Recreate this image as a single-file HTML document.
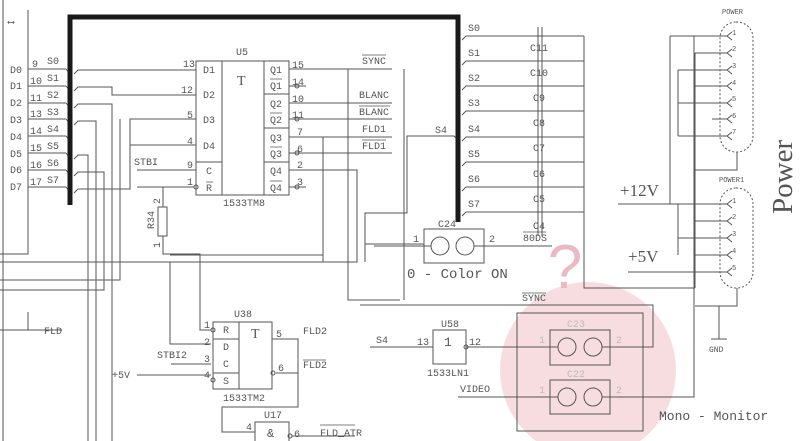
<!DOCTYPE html>
<html><head><meta charset="utf-8"><style>
html,body{margin:0;padding:0;background:#fff;}
svg{display:block;}
text{font-family:"Liberation Mono",monospace;fill:#555;}
</style></head><body>
<svg width="800" height="441" viewBox="0 0 800 441" xmlns="http://www.w3.org/2000/svg">
<circle cx="588" cy="370" r="88" fill="#f8dde0"/>
<text x="565" y="288" style="font-size:62px;fill:#eab9c4;font-family:'Liberation Sans',sans-serif" text-anchor="middle">?</text>
<g stroke="#555" stroke-width="1" fill="none">
<path d="M3 0V441M28 10V254H0"/>
<path d="M28 69H66M28 86H66M28 103H66M28 119H66M28 136H66M28 153H66M28 170H66M28 187H66"/>
<path d="M66 69l4 5M66 86l4 5M66 103l4 5M66 119l4 5M66 136l4 5M66 153l4 5M66 170l4 5M66 187l4 5"/>
<path d="M74 74l4-4H196M74 91l4-4H112V95H196M74 108l4-4H112V441M74 125l4-4H96V441M74 193l4-4H130V119H196M130 145H196"/>
<path d="M74 159l4-4H88V441M74 176l4-4H104V290H0"/>
<path d="M120 119V280H0"/>
<path d="M137 170H196M137 187H194"/>
<path d="M163 187V207M163 236V254H200V330H211M170 262V344H211"/>
<path d="M137 375H211"/>
<rect x="158" y="207" width="9" height="29"/>
<path d="M28 312V330H0M28 330H62"/>
<rect x="196" y="61" width="93" height="134"/>
<path d="M222 61V195M264 61V195M196 162H222M264 94H289M264 128H289M264 162H289"/>
<path d="M289 69H392M289 86H306M289 103H392M289 119H392M289 137H392M289 153H392M289 170H357V262H0M289 187H306"/>
<path d="M348 69V300H400M323 137V262M323 255H170"/>
<path d="M404 69V300"/>
<path d="M458 140l-4-4H407V213H365V262M365 244H424"/>
<circle cx="297" cy="86" r="2"/><circle cx="297" cy="119" r="2"/><circle cx="297" cy="153" r="2"/><circle cx="297" cy="187" r="2"/><circle cx="196" cy="187" r="2"/>
<path d="M462 40l4-4H584M462 65l4-4H584M462 90l4-4H584M462 115l4-4H584M462 141l4-4H584M462 166l4-4H584M462 191l4-4H584M462 216l4-4H584"/>
<path d="M584 36V288H695"/>
<path d="M538 27V236M542 27V236"/>
<rect x="424" y="229" width="60" height="34"/>
<circle cx="440" cy="246" r="9"/><circle cx="465" cy="246" r="9"/>
<path d="M374 246H431M474 246H552"/>
<path d="M360 305H653V347H602"/>
<rect x="517" y="313" width="126" height="118"/>
<rect x="550" y="330" width="60" height="35"/>
<rect x="550" y="380" width="60" height="34"/>
<circle cx="567" cy="347" r="9"/><circle cx="593" cy="347" r="9"/>
<circle cx="567" cy="397" r="9"/><circle cx="593" cy="397" r="9"/>
<path d="M466 347H558M458 397H558M602 397H694V36"/>
<rect x="433" y="330" width="33" height="34"/>
<path d="M370 347H433"/>
<circle cx="466" cy="347" r="2"/>
<path d="M670 36H727M670 36V204M695 53H727M695 53V288M678 70H727M678 70V136M695 86H727M678 103H727M678 136H727M712 119H727M737 152V170H695"/>
<path d="M618 204H727M678 204V255M695 221H727M678 238H727M695 255H727M628 272H727M737 288V306H695M719 306V339M711 339H727"/>
<path d="M727 36l5-4M727 36l5 4M727 53l5-4M727 53l5 4M727 70l5-4M727 70l5 4M727 86l5-4M727 86l5 4M727 103l5-4M727 103l5 4M727 119l5-4M727 119l5 4M727 136l5-4M727 136l5 4"/>
<path d="M727 204l5-4M727 204l5 4M727 221l5-4M727 221l5 4M727 238l5-4M727 238l5 4M727 255l5-4M727 255l5 4M727 272l5-4M727 272l5 4"/>
<rect x="720" y="22" width="33" height="130" rx="16" stroke-dasharray="2,2"/>
<rect x="720" y="188" width="33" height="100" rx="16" stroke-dasharray="2,2"/>
<rect x="213" y="322" width="59" height="67"/>
<path d="M239 322V389M213 339H239M213 373H239M272 339H298V407H222V432H255M276 373H298"/>
<circle cx="213" cy="330" r="2"/><circle cx="213" cy="380" r="2"/><circle cx="273" cy="373" r="2"/>
<path d="M171 364H211"/>
<path d="M255 441V422H289V441M292 436H355"/>
<circle cx="290" cy="436" r="2"/>
</g>
<path d="M70 205V17H458V222" stroke="#1a1a1a" stroke-width="5" fill="none"/>
<g font-size="10">
<text x="10" y="73">D0</text><text x="10" y="89">D1</text><text x="10" y="106">D2</text><text x="10" y="123">D3</text><text x="10" y="140">D4</text><text x="10" y="157">D5</text><text x="10" y="173">D6</text><text x="10" y="190">D7</text>
<text x="32" y="67">9</text><text x="30" y="84">10</text><text x="30" y="101">11</text><text x="30" y="117">13</text><text x="30" y="134">14</text><text x="30" y="151">15</text><text x="30" y="168">16</text><text x="30" y="185">17</text>
<text x="47" y="64">S0</text><text x="47" y="81">S1</text><text x="47" y="98">S2</text><text x="47" y="115">S3</text><text x="47" y="132">S4</text><text x="47" y="149">S5</text><text x="47" y="166">S6</text><text x="47" y="183">S7</text>
<text x="8" y="25">⟷</text>
<text x="236" y="55">U5</text><text x="237" y="85" style="font-size:14px;font-family:'Liberation Serif',serif">T</text>
<text x="223" y="206">1533TM8</text>
<text x="203" y="73">D1</text><text x="203" y="98">D2</text><text x="203" y="123">D3</text><text x="203" y="149">D4</text><text x="206" y="174">C</text><text x="206" y="191">R</text>
<text x="270" y="73">Q1</text><text x="270" y="89">Q1</text><text x="270" y="107">Q2</text><text x="270" y="123">Q2</text><text x="270" y="141">Q3</text><text x="270" y="157">Q3</text><text x="270" y="174">Q4</text><text x="270" y="191">Q4</text>
<text x="183" y="67">13</text><text x="181" y="93">12</text><text x="187" y="118">5</text><text x="187" y="144">4</text><text x="187" y="168">9</text><text x="187" y="185">1</text>
<text x="292" y="68">15</text><text x="292" y="85">14</text><text x="292" y="102">10</text><text x="292" y="118">11</text><text x="297" y="135">7</text><text x="297" y="152">6</text><text x="297" y="168">2</text><text x="297" y="185">3</text>
<text x="134" y="165">STBI</text>
<text x="362" y="64">SYNC</text><text x="359" y="98">BLANC</text><text x="359" y="115">BLANC</text><text x="362" y="132">FLD1</text><text x="362" y="149">FLD1</text>
<text x="154" y="229" transform="rotate(-90 154 229)">R34</text><text x="160" y="204" transform="rotate(-90 160 204)">2</text><text x="160" y="248" transform="rotate(-90 160 248)">1</text>
<text x="435" y="133">S4</text>
<text x="468" y="31">S0</text><text x="468" y="56">S1</text><text x="468" y="81">S2</text><text x="468" y="106">S3</text><text x="468" y="132">S4</text><text x="468" y="157">S5</text><text x="468" y="182">S6</text><text x="468" y="207">S7</text>
<text x="530" y="51">C11</text><text x="530" y="76">C10</text><text x="533" y="101">C9</text><text x="533" y="126">C8</text><text x="533" y="151">C7</text><text x="533" y="177">C6</text><text x="533" y="202">C5</text><text x="533" y="229">C4</text><text x="523" y="241">80DS</text>
<text x="438" y="227">C24</text><text x="413" y="242">1</text><text x="489" y="242">2</text>
<text x="407" y="278" style="font-size:14px">0 - Color ON</text>
<text x="522" y="301">SYNC</text>
<text x="441" y="327">U58</text><text x="444" y="346" style="font-size:13px">1</text><text x="417" y="345">13</text><text x="469" y="345">12</text><text x="427" y="376">1533LN1</text>
<text x="376" y="343">S4</text><text x="460" y="392">VIDEO</text>
<text x="567" y="327" style="fill:#bbb">C23</text><text x="567" y="377" style="fill:#bbb">C22</text>
<text x="539" y="343" style="fill:#bbb">1</text><text x="616" y="343" style="fill:#bbb">2</text><text x="539" y="393" style="fill:#bbb">1</text><text x="616" y="393" style="fill:#bbb">2</text>
<text x="659" y="420" style="font-size:13px">Mono - Monitor</text>
<text x="722" y="14" style="font-size:7px">POWER</text><text x="719" y="182" style="font-size:7px">POWER1</text>
<g style="font-size:7px"><text x="732" y="35">1</text><text x="732" y="51">2</text><text x="732" y="68">3</text><text x="732" y="85">4</text><text x="732" y="101">5</text><text x="732" y="118">6</text><text x="732" y="134">7</text>
<text x="732" y="203">1</text><text x="732" y="219">2</text><text x="732" y="236">3</text><text x="732" y="253">4</text><text x="732" y="270">5</text></g>
<text x="620" y="196" style="font-size:17px;font-family:'Liberation Serif',serif">+12V</text>
<text x="628" y="262" style="font-size:17px;font-family:'Liberation Serif',serif">+5V</text>
<text x="709" y="352" style="font-size:8px">GND</text>
<text x="792" y="214" transform="rotate(-90 792 214)" style="font-size:29px;font-family:'Liberation Serif',serif">Power</text>
<text x="44" y="334">FLD</text>
<text x="234" y="317">U38</text><text x="251" y="338" style="font-size:14px;font-family:'Liberation Serif',serif">T</text>
<text x="223" y="333">R</text><text x="223" y="350">D</text><text x="223" y="367">C</text><text x="223" y="384">S</text>
<text x="204" y="328">1</text><text x="204" y="345">2</text><text x="204" y="362">3</text><text x="204" y="378">4</text>
<text x="276" y="337">5</text><text x="278" y="371">6</text>
<text x="157" y="358">STBI2</text><text x="112" y="378">+5V</text>
<text x="303" y="334">FLD2</text><text x="303" y="368">FLD2</text>
<text x="223" y="401">1533TM2</text>
<text x="264" y="418">U17</text><text x="267" y="437" style="font-size:12px">&amp;</text><text x="246" y="430">4</text><text x="294" y="437">6</text>
<text x="320" y="436">FLD_ATR</text>
</g>
<g stroke="#555" stroke-width="0.8">
<path d="M362 55H386M359 106H390M362 140H386M206 182H213M270 79H282M270 113H282M270 147H282M270 181H282M522 293H546M523 232H546M303 360H326M320 425H355"/>
</g>
</svg>
</body></html>
